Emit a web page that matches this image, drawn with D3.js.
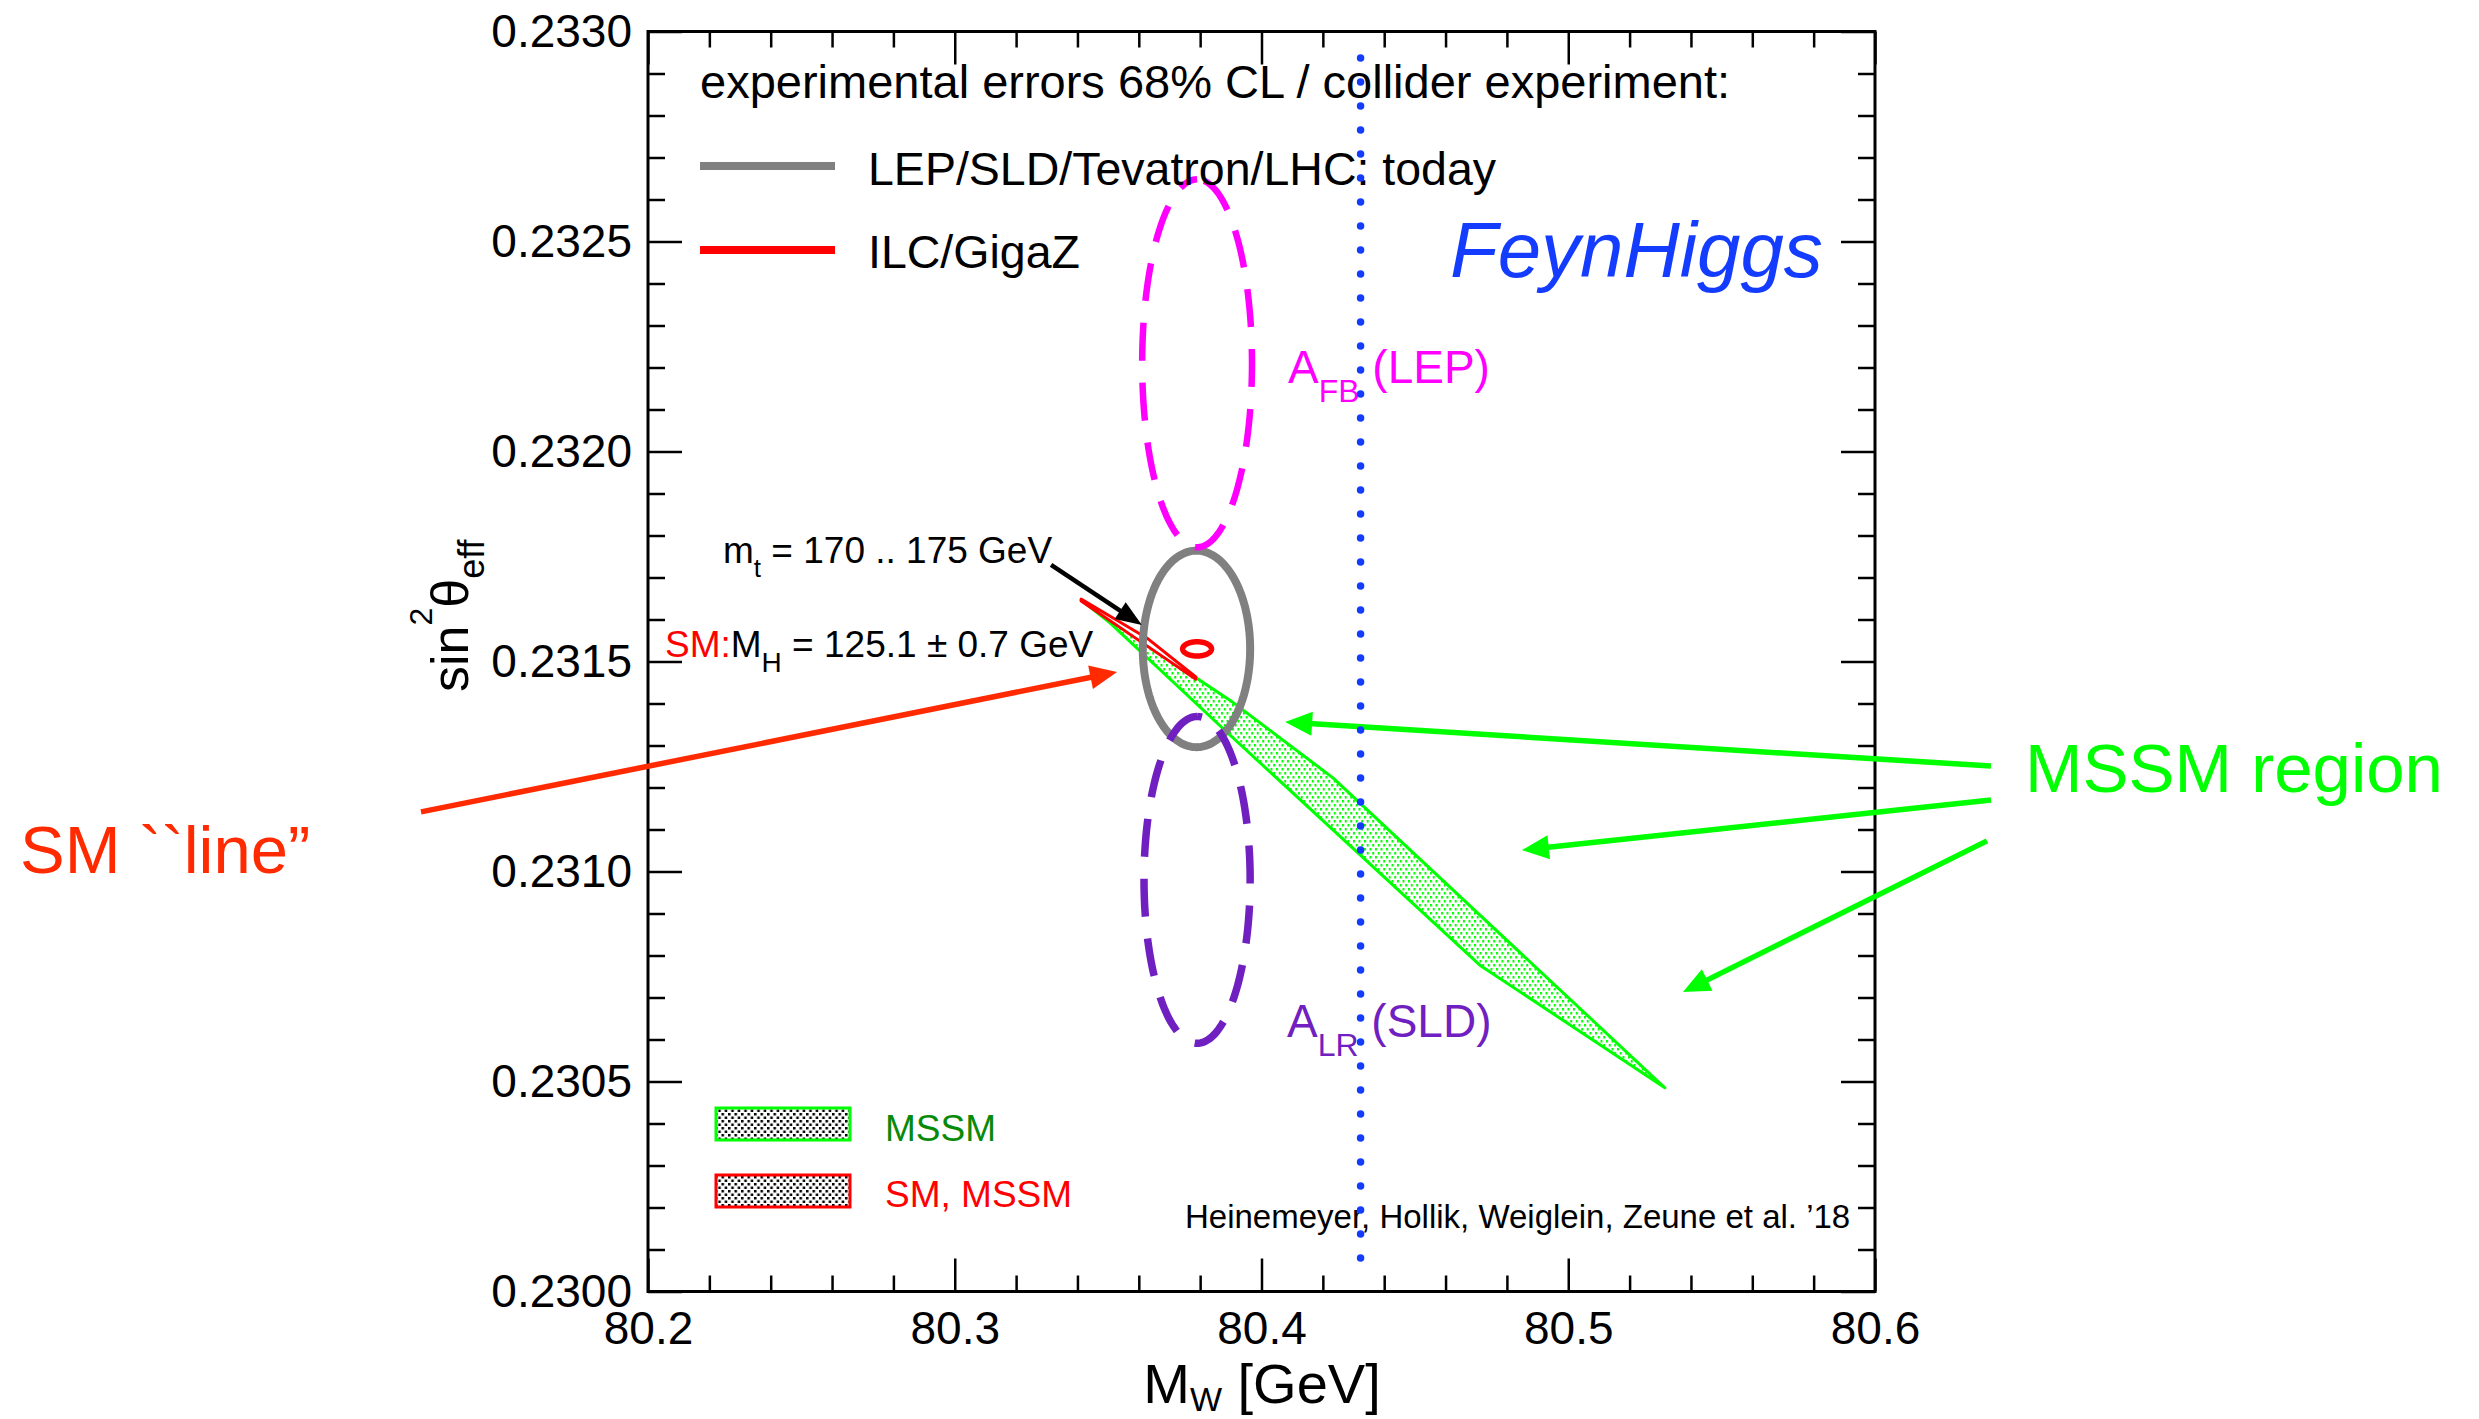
<!DOCTYPE html>
<html><head><meta charset="utf-8">
<script src="https://cdn.jsdelivr.net/npm/d3@7"></script>
<style>
html,body{margin:0;padding:0;background:#fff;}
svg{display:block;}
text{font-family:"Liberation Sans",Arial,Helvetica,sans-serif;}
</style></head><body>
<svg id="c" width="2479" height="1419"></svg>
<script>
// ---------------- data ----------------
const xTicks = [80.2, 80.3, 80.4, 80.5, 80.6];
const yTicks = [0.2300, 0.2305, 0.2310, 0.2315, 0.2320, 0.2325, 0.2330];

// measurement ellipses (centre and semi-axes in data units)
const ellipseNames = ["today", "AFB", "ALR", "ILC"];
const ellipseMW    = [80.3788, 80.3790, 80.3790, 80.3790];
const ellipseS2    = [0.23153, 0.23221, 0.23098, 0.23153];
const ellipseRMW   = [0.0175, 0.0179, 0.0173, 0.0047];
const ellipseRS2   = [0.000234, 0.000438, 0.000389, 0.0000170];
const ellipseColor = ["#808080", "#ff00ff", "#7020c0", "#ff0000"];

// MSSM region outline
const mssmMW = [80.3412, 80.3783, 80.3897, 80.4233, 80.5315, 80.4712, 80.3897, 80.3506, 80.3412];
const mssmS2 = [0.231646, 0.231463, 0.231408, 0.231223, 0.230485, 0.230777, 0.231325, 0.231592, 0.231646];

// SM band (m_t = 170..175, M_H = 125.1 +- 0.7)
const smMW = [80.3412, 80.3630, 80.3786, 80.3786, 80.3623, 80.3412];
const smS2 = [0.231649, 0.231554, 0.231463, 0.231458, 0.231539, 0.231644];

// vertical dotted line (M_W)
const mwLine = 80.4323;
const mwLineS2 = [0.232937, 0.23008];

// annotation arrows (tail -> tip), data units
const arrowFromMW = [80.3314, 80.1260, 80.6378, 80.6378, 80.6365];
const arrowFromS2 = [0.23173, 0.231142, 0.231251, 0.23117, 0.231073];
const arrowToMW   = [80.3610, 80.3529, 80.4077, 80.4849, 80.5374];
const arrowToS2   = [0.231587, 0.231475, 0.231356, 0.231051, 0.230713];
const arrowColor  = ["#000000", "#ff2a00", "#00ff00", "#00ff00", "#00ff00"];

// ---------------- drawing ----------------
const svg = d3.select("#c");
const x = d3.scaleLinear().domain([80.2, 80.6]).range([648, 1875]);
const y = d3.scaleLinear().domain([0.2300, 0.2330]).range([1291.5, 31.5]);

const defs = svg.append("defs");
function pat(id, col, w, h, dw, dh) {
  const p = defs.append("pattern").attr("id", id).attr("width", w).attr("height", h)
    .attr("patternUnits", "userSpaceOnUse");
  p.append("rect").attr("width", w).attr("height", h).attr("fill", "#fff");
  p.append("rect").attr("x", 0).attr("y", 0).attr("width", dw).attr("height", dh).attr("fill", col);
  p.append("rect").attr("x", w / 2).attr("y", h / 2).attr("width", dw).attr("height", dh).attr("fill", col);
}
pat("pg", "#00ff00", 5.5, 8, 2, 2.5);
pat("pk", "#000000", 6.5, 7, 2.5, 2.5);

// minor ticks
const minorX = d3.range(0, 21).map(i => 80.2 + i * 0.02).filter((v, i) => i % 5 !== 0);
const minorY = d3.range(0, 31).map(i => 0.2300 + i * 0.0001).filter((v, i) => i % 5 !== 0);

function styleAxis(g) {
  g.select(".domain").remove();
  g.selectAll("line").attr("stroke", "#000").attr("stroke-width", 2.5);
  g.selectAll("text").attr("font-size", 46).attr("fill", "#000")
    .attr("font-family", '"Liberation Sans",Arial,Helvetica,sans-serif');
  g.attr("font-family", null).attr("font-size", null);
}
const H = 1291.5, T = 31.5, L = 648, R = 1875;
svg.append("g").attr("transform", `translate(0,${H})`)
  .call(d3.axisBottom(x).tickValues(xTicks).tickSize(-33).tickPadding(20).tickFormat(d3.format(".1f"))).call(styleAxis);
svg.append("g").attr("transform", `translate(0,${H})`)
  .call(d3.axisBottom(x).tickValues(minorX).tickSize(-16).tickFormat("")).call(styleAxis);
svg.append("g").attr("transform", `translate(0,${T})`)
  .call(d3.axisTop(x).tickValues(xTicks).tickSize(-33).tickFormat("")).call(styleAxis);
svg.append("g").attr("transform", `translate(0,${T})`)
  .call(d3.axisTop(x).tickValues(minorX).tickSize(-16).tickFormat("")).call(styleAxis);
svg.append("g").attr("transform", `translate(${L},0)`)
  .call(d3.axisLeft(y).tickValues(yTicks).tickSize(-34).tickPadding(16).tickFormat(d3.format(".4f"))).call(styleAxis);
svg.append("g").attr("transform", `translate(${L},0)`)
  .call(d3.axisLeft(y).tickValues(minorY).tickSize(-17).tickFormat("")).call(styleAxis);
svg.append("g").attr("transform", `translate(${R},0)`)
  .call(d3.axisRight(y).tickValues(yTicks).tickSize(-34).tickFormat("")).call(styleAxis);
svg.append("g").attr("transform", `translate(${R},0)`)
  .call(d3.axisRight(y).tickValues(minorY).tickSize(-17).tickFormat("")).call(styleAxis);
svg.append("rect").attr("x", L).attr("y", T).attr("width", R - L).attr("height", H - T)
  .attr("fill", "none").attr("stroke", "#000").attr("stroke-width", 3);

const lineXY = d3.line().x(d => x(d[0])).y(d => y(d[1]));

// MSSM region
svg.append("path").attr("d", lineXY(mssmMW.map((v, i) => [v, mssmS2[i]])) + "Z")
  .attr("fill", "url(#pg)").attr("stroke", "#00ff00").attr("stroke-width", 3).attr("stroke-linejoin", "round");
// SM band
svg.append("path").attr("d", lineXY(smMW.map((v, i) => [v, smS2[i]])) + "Z")
  .attr("fill", "#fff").attr("stroke", "#ff0000").attr("stroke-width", 3).attr("stroke-linejoin", "round");

// ellipses
const ellWidth = [8, 6.5, 7.5, 5.5];
const ellDash = [null, "38,22", "38,22", null];
const ellOffset = [0, 19, 0, 0];
ellipseNames.forEach((n, k) => {
  const pts = d3.range(0, 361, 2).map(a => {
    const t = (90 + a) * Math.PI / 180;
    return [ellipseMW[k] + ellipseRMW[k] * Math.cos(t), ellipseS2[k] + ellipseRS2[k] * Math.sin(t)];
  });
  svg.append("path").attr("d", lineXY(pts))
    .attr("fill", "none").attr("stroke", ellipseColor[k]).attr("stroke-width", ellWidth[k])
    .attr("stroke-dasharray", ellDash[k]).attr("stroke-dashoffset", ellOffset[k]);
});

// arrows
arrowFromMW.forEach((v, i) => {
  const p0 = [x(v), y(arrowFromS2[i])], p1 = [x(arrowToMW[i]), y(arrowToS2[i])];
  const dx = p1[0] - p0[0], dy = p1[1] - p0[1], len = Math.hypot(dx, dy);
  const ux = dx / len, uy = dy / len, nx = -uy, ny = ux;
  const hl = i === 0 ? 26 : 27, hw = i === 0 ? 10 : 12;
  const bx = p1[0] - ux * hl, by = p1[1] - uy * hl;
  svg.append("line").attr("x1", p0[0]).attr("y1", p0[1]).attr("x2", bx + ux * 3).attr("y2", by + uy * 3)
    .attr("stroke", arrowColor[i]).attr("stroke-width", i === 0 ? 4.5 : 5.5);
  svg.append("path").attr("d", `M${p1[0]},${p1[1]}L${bx + nx * hw},${by + ny * hw}L${bx - nx * hw},${by - ny * hw}Z`)
    .attr("fill", arrowColor[i]);
});

// texts
function txt(xp, yp, s, size, col, extra) {
  const t = svg.append("text").attr("x", xp).attr("y", yp).attr("font-size", size).attr("fill", col).text(s);
  if (extra) extra(t);
  return t;
}
txt(700, 98, "experimental errors 68% CL / collider experiment:", 47, "#000");
svg.append("line").attr("x1", 700).attr("x2", 835).attr("y1", 166).attr("y2", 166).attr("stroke", "#808080").attr("stroke-width", 8);
txt(868, 185, "LEP/SLD/Tevatron/LHC: today", 46.5, "#000");
svg.append("line").attr("x1", 700).attr("x2", 835).attr("y1", 250).attr("y2", 250).attr("stroke", "#ff0000").attr("stroke-width", 8);
txt(868, 268, "ILC/GigaZ", 46.5, "#000");
txt(1450, 277, "FeynHiggs", 78, "#143cff", t => t.attr("font-style", "italic"));

// A_FB (LEP)
const afb = svg.append("text").attr("x", 1288).attr("y", 383).attr("font-size", 46).attr("fill", "#ff00ff");
afb.append("tspan").text("A");
afb.append("tspan").attr("font-size", 32).attr("dy", 19).text("FB");
afb.append("tspan").attr("dy", -19).text(" (LEP)");
// A_LR (SLD)
const alr = svg.append("text").attr("x", 1287).attr("y", 1037).attr("font-size", 46).attr("fill", "#7020c0");
alr.append("tspan").text("A");
alr.append("tspan").attr("font-size", 32).attr("dy", 19).text("LR");
alr.append("tspan").attr("dy", -19).text(" (SLD)");

// m_t label
const mt = svg.append("text").attr("x", 723).attr("y", 563).attr("font-size", 37).attr("fill", "#000");
mt.append("tspan").text("m");
mt.append("tspan").attr("font-size", 26).attr("dy", 14).text("t");
mt.append("tspan").attr("dy", -14).text(" = 170 .. 175 GeV");
// SM: M_H label
const mh = svg.append("text").attr("x", 665).attr("y", 657).attr("font-size", 37).attr("fill", "#000");
mh.append("tspan").attr("fill", "#ff0000").text("SM:");
mh.append("tspan").text("M");
mh.append("tspan").attr("font-size", 28).attr("dy", 15).text("H");
mh.append("tspan").attr("dy", -15).text(" = 125.1 \u00b1 0.7 GeV");

txt(20, 873, "SM ``line\u201d", 67, "#ff2a00");
txt(2025, 792, "MSSM region", 69, "#00ff00");
txt(1185, 1228, "Heinemeyer, Hollik, Weiglein, Zeune et al. \u201918", 33, "#000");

// legend boxes
svg.append("rect").attr("x", 716).attr("y", 1108).attr("width", 134).attr("height", 32)
  .attr("fill", "url(#pk)").attr("stroke", "#00ff00").attr("stroke-width", 3);
txt(885, 1141, "MSSM", 37, "#078a07");
svg.append("rect").attr("x", 716).attr("y", 1175).attr("width", 134).attr("height", 32)
  .attr("fill", "url(#pk)").attr("stroke", "#ff0000").attr("stroke-width", 3);
txt(885, 1207, "SM, MSSM", 37, "#ff0000");

// axis titles
const xt = svg.append("text").attr("x", 1262).attr("y", 1403).attr("font-size", 56).attr("fill", "#000").attr("text-anchor", "middle");
xt.append("tspan").text("M");
xt.append("tspan").attr("font-size", 34).attr("dy", 8).text("W");
xt.append("tspan").attr("dy", -8).text(" [GeV]");
const yt = svg.append("text").attr("transform", "translate(468,692) rotate(-90)").attr("font-size", 52).attr("fill", "#000");
yt.append("tspan").text("sin");
yt.append("tspan").attr("font-size", 32).attr("dy", -36).text("2");
yt.append("tspan").attr("dy", 36).text("\u03b8");
yt.append("tspan").attr("font-size", 36).attr("dy", 16).text("eff");

// dotted vertical line (on top)
svg.append("line").attr("x1", x(mwLine)).attr("x2", x(mwLine))
  .attr("y1", y(mwLineS2[0])).attr("y2", y(mwLineS2[1]) + 1)
  .attr("stroke", "#143cff").attr("stroke-width", 7.5).attr("stroke-linecap", "round").attr("stroke-dasharray", "0,24");
</script>
</body></html>
